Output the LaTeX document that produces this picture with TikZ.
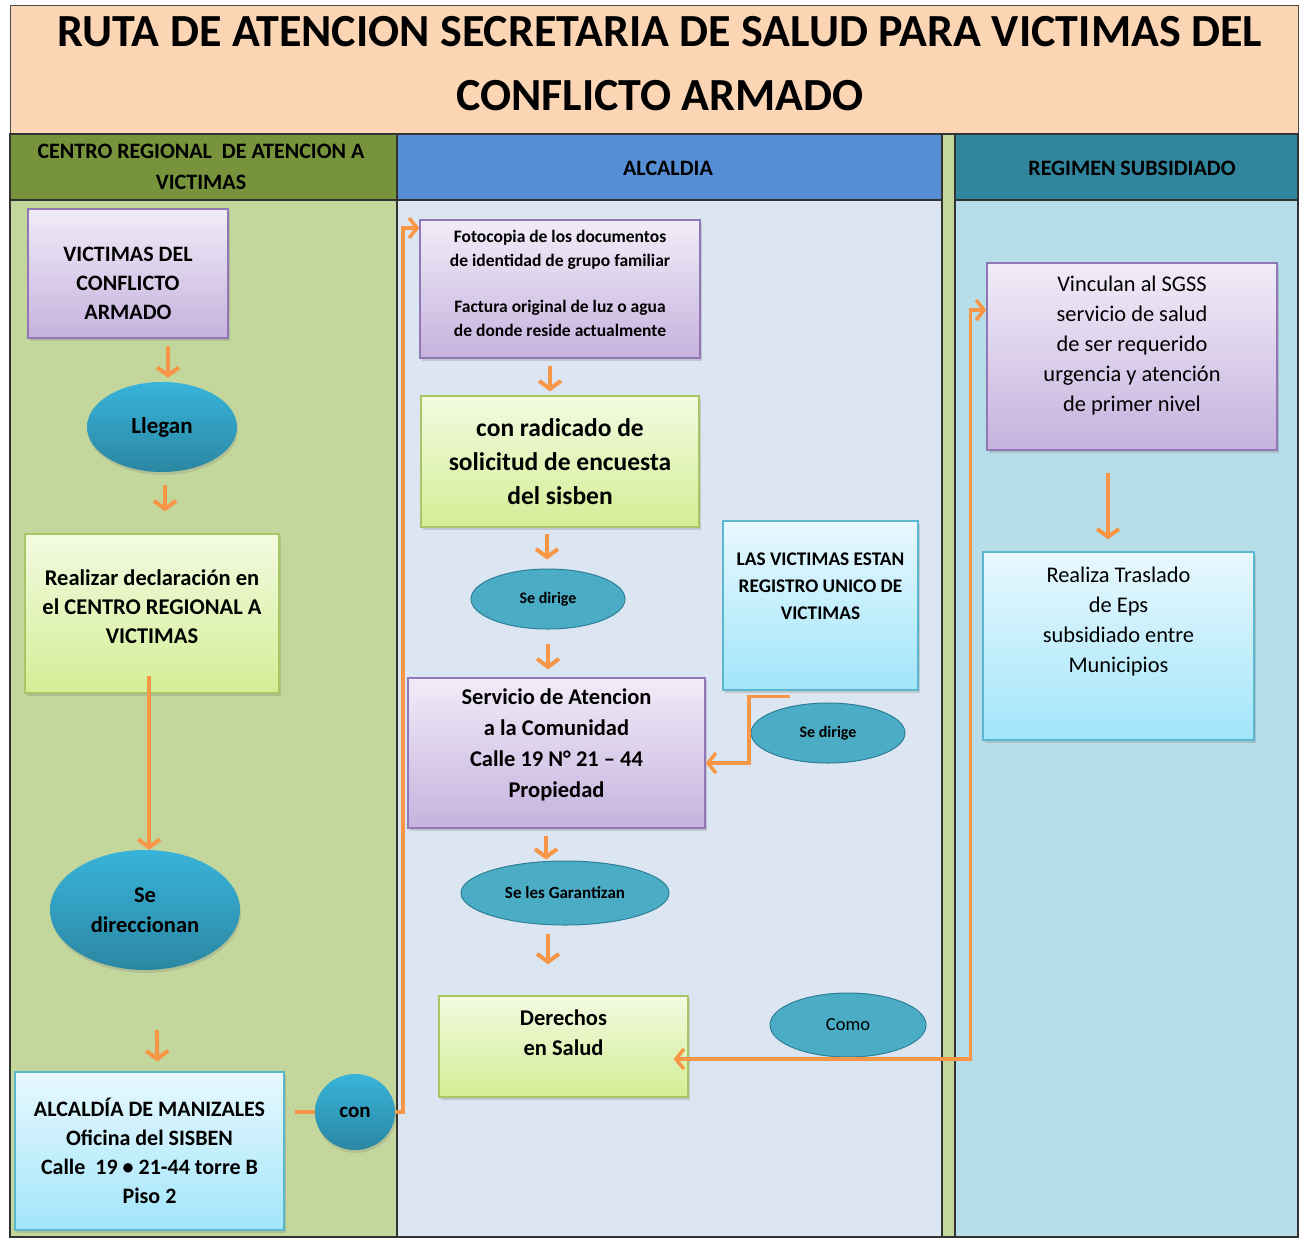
\documentclass[tikz,border=0pt]{standalone}
\usepackage{fontspec}
\setmainfont{Carlito}
\usetikzlibrary{shapes.geometric,arrows.meta,shadows}

\definecolor{flowor}{HTML}{F79646}
\definecolor{titlefill}{HTML}{FCD5B5}
\definecolor{headgreen}{HTML}{77933C}
\definecolor{lanegreen}{HTML}{C3D69B}
\definecolor{headblue}{HTML}{558ED5}
\definecolor{laneblue}{HTML}{DCE6F2}
\definecolor{headteal}{HTML}{31859C}
\definecolor{laneteal}{HTML}{B7DEE8}
\definecolor{boxpurple}{HTML}{8F78B5}
\definecolor{purpletop}{HTML}{F1ECF8}
\definecolor{purplebot}{HTML}{C6B2DE}
\definecolor{boxgreen}{HTML}{A8C666}
\definecolor{greentop}{HTML}{F3FAE1}
\definecolor{greenbot}{HTML}{D3EE95}
\definecolor{boxcyan}{HTML}{5BB6D0}
\definecolor{cyantop}{HTML}{E8F8FE}
\definecolor{cyanbot}{HTML}{A2E5FA}
\definecolor{bubtop}{HTML}{38B3DA}
\definecolor{bubbot}{HTML}{2B87A2}
\definecolor{bubflat}{HTML}{4BACC6}
\definecolor{bubedge}{HTML}{2F7F94}

\tikzset{
  lanehead/.style={font=\bfseries\fontsize{22}{31}\selectfont, align=center},
  box/.style={rectangle, line width=1.3pt, align=center, inner sep=0pt,
    drop shadow={shadow xshift=2pt, shadow yshift=-3pt, opacity=0.3}},
  purplebox/.style={box, draw=boxpurple, top color=purpletop, bottom color=purplebot},
  greenbox/.style={box, draw=boxgreen, top color=greentop, bottom color=greenbot},
  cyanbox/.style={box, draw=boxcyan, top color=cyantop, bottom color=cyanbot},
  bubble/.style={ellipse, inner sep=0pt, align=center, top color=bubtop, bottom color=bubbot,
    drop shadow={shadow xshift=1pt, shadow yshift=-3pt, opacity=0.25}},
  flatbubble/.style={ellipse, inner sep=0pt, fill=bubflat, draw=bubedge, line width=1pt},
  flow/.style={draw=flowor, line width=4pt, -{Straight Barb[length=8pt,width=22pt]}},
  route/.style={draw=flowor, line width=3.5pt},
  routearrow/.style={route, -{Straight Barb[length=8pt,width=20pt]}}
}

\begin{document}
\begin{tikzpicture}[x=1pt,y=1pt]
\useasboundingbox (0,0) rectangle (1303,-1243);
\fill[white] (0,0) rectangle (1303,-1243);

% title and lanes
\draw[fill=titlefill, draw=black!70, line width=1pt] (10,-5) rectangle (1298,-134);
\node[font=\bfseries\fontsize{46}{64}\selectfont, align=center] (title) at (660,-64)
  {RUTA DE ATENCION SECRETARIA DE SALUD PARA VICTIMAS DEL\\CONFLICTO ARMADO};

\draw[fill=lanegreen, draw=black!80, line width=1.5pt] (10,-200) rectangle (397,-1237);
\draw[fill=laneblue, draw=black!80, line width=1.5pt] (397,-200) rectangle (942,-1237);
\draw[fill=lanegreen, draw=black!80, line width=1.5pt] (942,-134) rectangle (955,-1237);
\draw[fill=laneteal, draw=black!80, line width=1.5pt] (955,-200) rectangle (1298,-1237);
\draw[fill=headgreen, draw=black!80, line width=1.5pt] (10,-134) rectangle (397,-200);
\draw[fill=headblue, draw=black!80, line width=1.5pt] (397,-134) rectangle (942,-200);
\draw[fill=headteal, draw=black!80, line width=1.5pt] (955,-134) rectangle (1298,-200);

\node[lanehead] (hcentro) at (201,-167) {CENTRO REGIONAL\ \ DE ATENCION A\\VICTIMAS};
\node[lanehead] (halcaldia) at (668,-168) {ALCALDIA};
\node[lanehead] (hregimen) at (1132,-168) {REGIMEN SUBSIDIADO};

% centro regional
\node[purplebox, minimum width=200, minimum height=129, text height=93pt,
  font=\bfseries\fontsize{22}{29}\selectfont] (vict) at (128,-273.5)
  {VICTIMAS DEL\\CONFLICTO\\ARMADO};
\node[bubble, minimum width=150, minimum height=90,
  font=\bfseries\fontsize{23}{29}\selectfont] (llegan) at (162,-427) {Llegan};
\node[greenbox, minimum width=254, minimum height=159, text depth=14pt,
  font=\bfseries\fontsize{22.5}{29}\selectfont] (realizar) at (152,-613.5)
  {Realizar declaración en\\el CENTRO REGIONAL A\\VICTIMAS};
\node[bubble, minimum width=190, minimum height=120,
  font=\bfseries\fontsize{22.5}{30}\selectfont] (direccionan) at (145,-910) {Se\\direccionan};
\node[cyanbox, minimum width=269, minimum height=158,
  font=\bfseries\fontsize{22}{29}\selectfont] (alcaldia) at (149.5,-1151)
  {ALCALDÍA DE MANIZALES\\Oficina del SISBEN\\Calle\ \ 19 • 21-44 torre B\\Piso 2};
\node[bubble, minimum width=80, minimum height=76,
  font=\bfseries\fontsize{21}{29}\selectfont] (con) at (355,-1112) {con};

% alcaldia
\node[purplebox, minimum width=280, minimum height=138, text depth=12pt,
  font=\bfseries\fontsize{17.5}{24}\selectfont] (foto) at (560,-289)
  {Fotocopia de los documentos\\de identidad de grupo familiar\\[22pt]Factura original de luz o agua\\de donde reside actualmente};
\node[greenbox, minimum width=278, minimum height=131,
  font=\bfseries\fontsize{25.5}{34}\selectfont] (radicado) at (560,-461.5)
  {con radicado de\\solicitud de encuesta\\del sisben};
\node[flatbubble, minimum width=154, minimum height=60,
  font=\bfseries\fontsize{16}{20}\selectfont] (sedirige) at (548,-599) {Se dirige};
\node[purplebox, minimum width=297, minimum height=150, text depth=20pt,
  font=\bfseries\fontsize{22.5}{31}\selectfont] (servicio) at (556.5,-753)
  {Servicio de Atencion\\a la Comunidad\\Calle 19 N° 21 – 44\\Propiedad};
\node[cyanbox, minimum width=195, minimum height=169, text depth=38pt,
  font=\bfseries\fontsize{19.3}{27}\selectfont] (registro) at (820.5,-605.5)
  {LAS VICTIMAS ESTAN\\REGISTRO UNICO DE\\VICTIMAS};
\node[flatbubble, minimum width=154, minimum height=60,
  font=\bfseries\fontsize{16}{20}\selectfont] (sedirigeb) at (828,-733) {Se dirige};
\node[flatbubble, minimum width=208, minimum height=64,
  font=\bfseries\fontsize{17}{20}\selectfont] (garantizan) at (565,-893) {Se les Garantizan};
\node[greenbox, minimum width=249, minimum height=101, text depth=28pt,
  font=\bfseries\fontsize{22.5}{30}\selectfont] (derechos) at (563.5,-1046.5) {Derechos\\en Salud};
\node[flatbubble, minimum width=156, minimum height=64,
  font=\fontsize{18.5}{20}\selectfont] (como) at (848,-1025) {Como};

% regimen subsidiado
\node[purplebox, minimum width=290, minimum height=187, text depth=26pt,
  font=\fontsize{22.4}{30}\selectfont] (vinculan) at (1132,-356.5)
  {Vinculan al SGSS\\servicio de salud\\de ser requerido\\urgencia y atención\\de primer nivel};
\node[cyanbox, minimum width=271, minimum height=188, text depth=53pt,
  font=\fontsize{22.4}{30}\selectfont] (traslado) at (1118.5,-646)
  {Realiza Traslado\\de Eps\\subsidiado entre\\Municipios};

% connectors
\draw[flow, shorten <=7pt, shorten >=4pt] ([xshift=40]vict.south) -- ([xshift=6]llegan.north);
\draw[flow, shorten <=13pt, shorten >=22pt] ([xshift=3]llegan.south) -- ([xshift=13]realizar.north);
\draw[flow, shorten >=0pt] ([xshift=-3,yshift=18]realizar.south) -- ([xshift=4]direccionan.north);
\draw[flow, shorten <=60pt, shorten >=10pt] ([xshift=11]direccionan.south) -- ([xshift=8]alcaldia.north);
\draw[route, shorten <=10pt] (alcaldia.east |- con.west) -- (con.west);
\draw[routearrow] (con.east) -- ++(8,0) |- ([yshift=61]foto.west);
\draw[flow, shorten <=7pt, shorten >=4pt] ([xshift=-10]foto.south) -- ([xshift=-10]radicado.north);
\draw[flow, shorten <=6pt, shorten >=9pt] ([xshift=-13]radicado.south) -- ([xshift=-1]sedirige.north);
\draw[flow, shorten <=14pt, shorten >=8pt] (sedirige.south) -- ([xshift=-8.5]servicio.north);
\draw[routearrow] ([xshift=-30.5,yshift=-6]registro.south) -- ++(-41,0) |- ([yshift=-10]servicio.east);
\draw[flow, shorten <=7pt, shorten >=1pt] ([xshift=-10.5]servicio.south) -- ([xshift=-19]garantizan.north);
\draw[flow, shorten <=8pt, shorten >=31pt] ([xshift=-17]garantizan.south) -- ([xshift=-15.5]derechos.north);
\draw[route, {Straight Barb[length=8pt,width=20pt]}-{Straight Barb[length=8pt,width=20pt]}, shorten <=-15pt]
  ([yshift=-12.5]derechos.east) -- ++(282,0) |- ([yshift=46.5]vinculan.west);
\draw[flow, shorten <=22pt, shorten >=12pt] ([xshift=-24]vinculan.south) -- ([xshift=-10.5]traslado.north);
\end{tikzpicture}
\end{document}
